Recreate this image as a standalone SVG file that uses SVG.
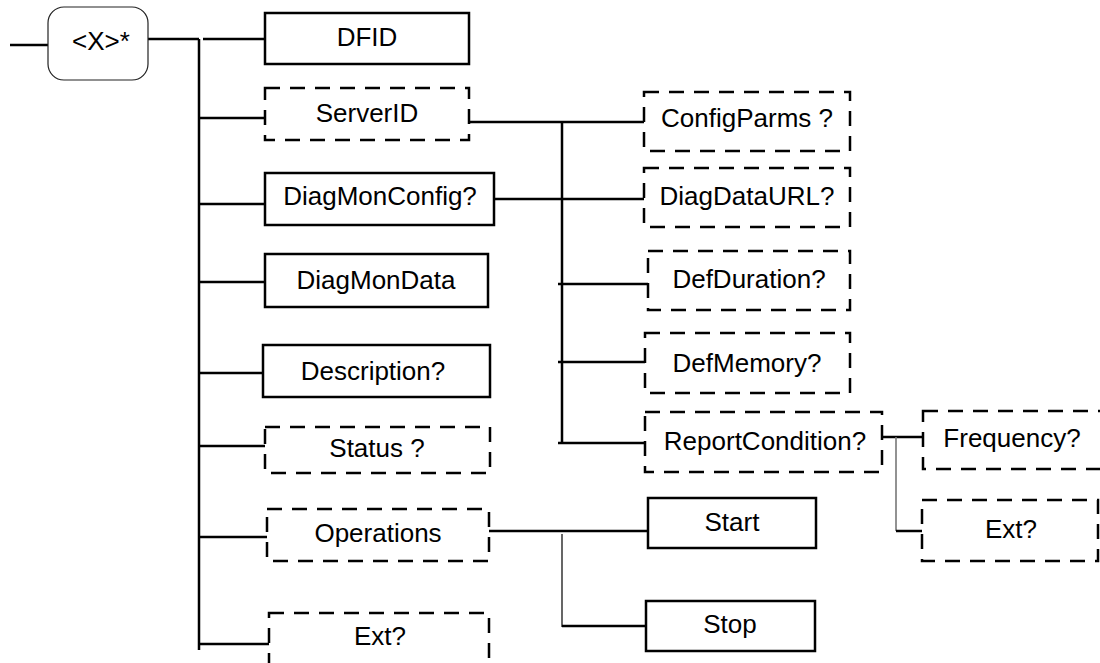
<svg xmlns="http://www.w3.org/2000/svg" width="1100" height="663" viewBox="0 0 1100 663">
<style>
.bg{fill:#fff}
.box{fill:#fff;stroke:#000;stroke-width:2.5}
.dbox{fill:#fff;stroke:#000;stroke-width:2.5;stroke-dasharray:15 10}
.root{fill:#fff;stroke:#222;stroke-width:1.2}
.ln{fill:none;stroke:#000;stroke-width:2.5}
.thin{fill:none;stroke:#000;stroke-width:1.2}
.gray{fill:none;stroke:#777;stroke-width:1.6}
text{font-family:"Liberation Sans",Arial,sans-serif;font-size:26px;fill:#000;text-anchor:middle}
</style>
<rect class="bg" x="0" y="0" width="1100" height="663"/>
<g id="connectors">
<path class="ln" d="M10 45H48"/>
<path class="ln" d="M148 39H199"/>
<path class="ln" d="M199 39V650"/>
<path class="ln" d="M203 39H265"/>
<path class="ln" d="M199 118H265"/>
<path class="ln" d="M199 204H265"/>
<path class="ln" d="M199 282H265"/>
<path class="ln" d="M199 373H263"/>
<path class="ln" d="M199 446H265"/>
<path class="ln" d="M199 537H267"/>
<path class="ln" d="M199 644H269"/>
<path class="ln" d="M470 122H644"/>
<path class="ln" d="M562 122V443"/>
<path class="ln" d="M494 199H644"/>
<path class="ln" d="M558 284H648"/>
<path class="ln" d="M558 362H645"/>
<path class="ln" d="M558 443H645"/>
<path class="ln" d="M489 531H648"/>
<path class="thin" d="M562 534V627"/>
<path class="ln" d="M562 626H646"/>
<path class="ln" d="M880 437H923"/>
<path class="gray" d="M896 437V531"/>
<path class="ln" d="M896 531H922"/>
</g>
<g id="node-root"><rect class="root" x="48" y="7" width="100" height="73" rx="16"/><text x="101" y="50">&lt;X&gt;*</text></g>
<g id="node-dfid"><rect class="box" x="265" y="13" width="204" height="51"/><text x="367" y="46">DFID</text></g>
<g id="node-serverid"><rect class="dbox" x="265" y="88" width="204" height="52"/><text x="367" y="122">ServerID</text></g>
<g id="node-diagmonconfig"><rect class="box" x="265" y="173" width="229" height="52"/><text x="380" y="205">DiagMonConfig?</text></g>
<g id="node-diagmondata"><rect class="box" x="265" y="254" width="223" height="53"/><text x="376" y="289">DiagMonData</text></g>
<g id="node-description"><rect class="box" x="263" y="345" width="227" height="52"/><text x="373" y="380">Description?</text></g>
<g id="node-status"><rect class="dbox" x="265" y="427" width="225" height="46"/><text x="377" y="457">Status ?</text></g>
<g id="node-operations"><rect class="dbox" x="267" y="509" width="222" height="52"/><text x="378" y="542">Operations</text></g>
<g id="node-ext"><rect class="dbox" x="269" y="613" width="220" height="70"/><text x="380" y="645">Ext?</text></g>
<g id="node-configparms"><rect class="dbox" x="644" y="92" width="206" height="59"/><text x="747" y="127">ConfigParms ?</text></g>
<g id="node-diagdataurl"><rect class="dbox" x="644" y="168" width="206" height="59"/><text x="747" y="205">DiagDataURL?</text></g>
<g id="node-defduration"><rect class="dbox" x="648" y="251" width="202" height="59"/><text x="749" y="288">DefDuration?</text></g>
<g id="node-defmemory"><rect class="dbox" x="645" y="333" width="205" height="60"/><text x="747" y="372">DefMemory?</text></g>
<g id="node-reportcondition"><rect class="dbox" x="645" y="412" width="237" height="60"/><text x="765" y="450">ReportCondition?</text></g>
<g id="node-start"><rect class="box" x="648" y="498" width="168" height="50"/><text x="732" y="531">Start</text></g>
<g id="node-stop"><rect class="box" x="646" y="601" width="169" height="50"/><text x="730" y="633">Stop</text></g>
<g id="node-frequency"><rect class="dbox" x="923" y="411" width="185" height="58"/><text x="1012" y="447">Frequency?</text></g>
<g id="node-ext2"><rect class="dbox" x="922" y="500" width="176" height="61"/><text x="1011" y="538">Ext?</text></g>
</svg>
